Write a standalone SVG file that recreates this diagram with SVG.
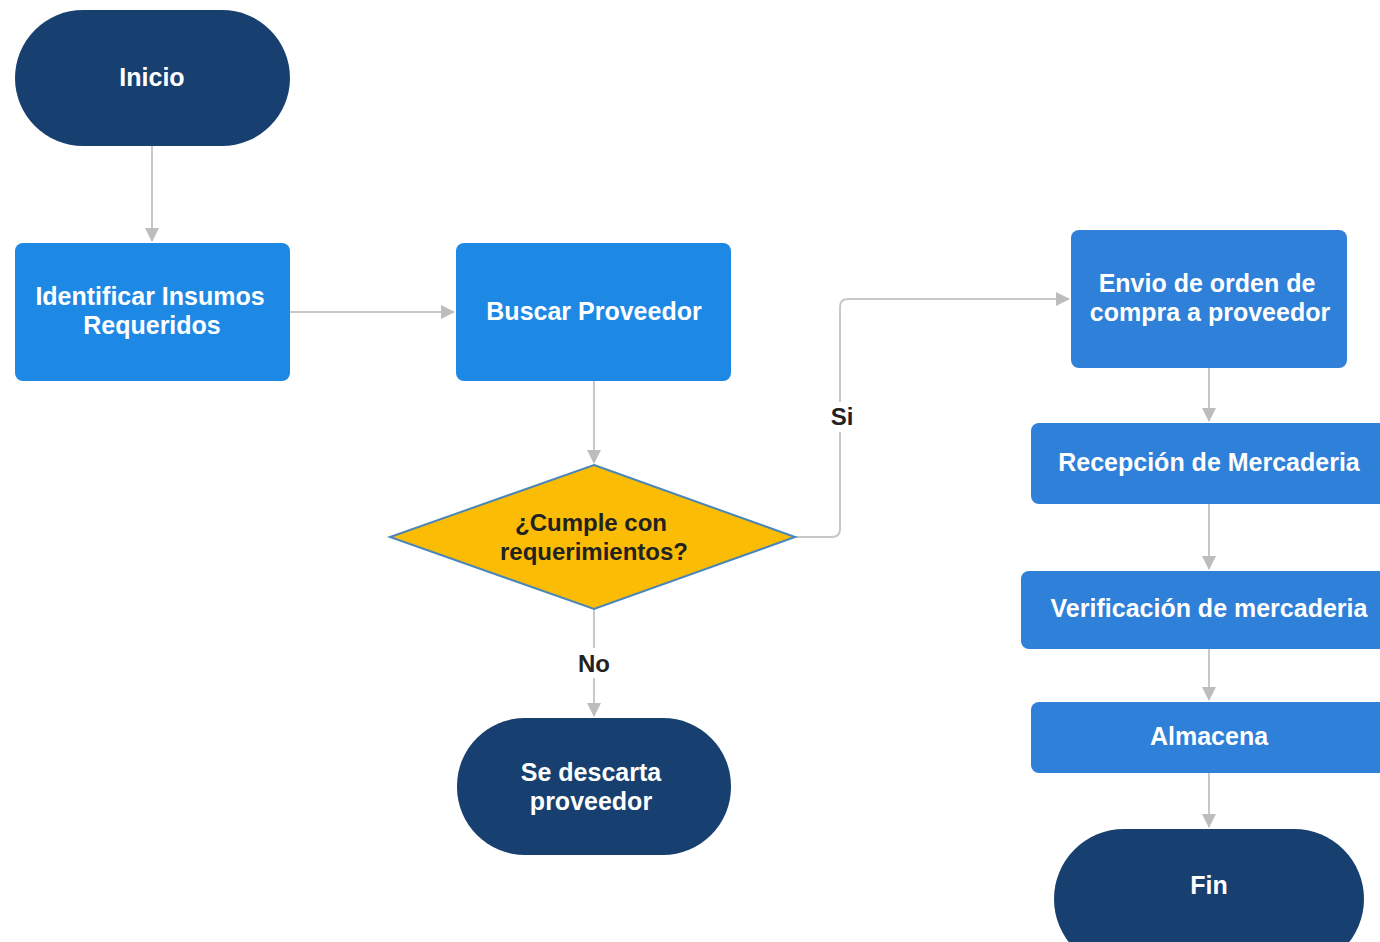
<svg xmlns="http://www.w3.org/2000/svg" width="1380" height="942" viewBox="0 0 1380 942">
<defs>
<marker id="arr" markerWidth="14" markerHeight="14" refX="13" refY="7" orient="auto" markerUnits="userSpaceOnUse">
<path d="M0,0 L14,7 L0,14 Z" fill="#bdbdbd"/>
</marker>
<style>
.term{fill:#173f6f;}
.proc{fill:#1e88e5;}
.proc2{fill:#2f80d8;}
.wt{font-family:"Liberation Sans",Arial,sans-serif;font-weight:bold;font-size:25px;fill:#ffffff;text-anchor:middle;}
.dk{font-family:"Liberation Sans",Arial,sans-serif;font-weight:bold;font-size:24px;fill:#222222;text-anchor:middle;}
.conn{fill:none;stroke:#c8c8c8;stroke-width:2;}
</style>
</defs>
<rect width="1380" height="942" fill="#ffffff"/>
<g id="connectors">
<path class="conn" d="M152,146 V241" marker-end="url(#arr)"/>
<path class="conn" d="M290,312 H454" marker-end="url(#arr)"/>
<path class="conn" d="M594,381 V463" marker-end="url(#arr)"/>
<path class="conn" d="M594,609 V716" marker-end="url(#arr)"/>
<path class="conn" d="M795,537 H832 Q840,537 840,529 V307 Q840,299 848,299 H1069" marker-end="url(#arr)"/>
<path class="conn" d="M1209,368 V421" marker-end="url(#arr)"/>
<path class="conn" d="M1209,504 V569" marker-end="url(#arr)"/>
<path class="conn" d="M1209,649 V700" marker-end="url(#arr)"/>
<path class="conn" d="M1209,773 V827" marker-end="url(#arr)"/>
<rect x="824" y="402" width="36" height="30" fill="#ffffff"/>
<text class="dk" x="842" y="425">Si</text>
<rect x="574" y="648" width="40" height="30" fill="#ffffff"/>
<text class="dk" x="594" y="672">No</text>
</g>
<g id="inicio">
<rect class="term" x="15" y="10" width="275" height="136" rx="68" ry="68"/>
<text class="wt" x="152" y="86">Inicio</text>
</g>
<g id="identificar">
<rect class="proc" x="15" y="243" width="275" height="138" rx="8"/>
<text class="wt" x="150" y="305">Identificar Insumos</text>
<text class="wt" x="152" y="334">Requeridos</text>
</g>
<g id="buscar">
<rect class="proc" x="456" y="243" width="275" height="138" rx="8"/>
<text class="wt" x="594" y="320">Buscar Proveedor</text>
</g>
<g id="decision">
<polygon points="594,465 795,537 594,609 390,537" fill="#fbbc05" stroke="#4a86b8" stroke-width="2"/>
<text class="dk" x="591" y="531">¿Cumple con</text>
<text class="dk" x="594" y="560">requerimientos?</text>
</g>
<g id="descarta">
<rect class="term" x="457" y="718" width="274" height="137" rx="68" ry="68"/>
<text class="wt" x="591" y="781">Se descarta</text>
<text class="wt" x="591" y="810">proveedor</text>
</g>
<g id="envio">
<rect class="proc2" x="1071" y="230" width="276" height="138" rx="8"/>
<text class="wt" x="1207" y="292">Envio de orden de</text>
<text class="wt" x="1210" y="321">compra a proveedor</text>
</g>
<g id="recepcion">
<rect class="proc2" x="1031" y="423" width="360" height="81" rx="8"/>
<text class="wt" x="1209" y="471">Recepción de Mercaderia</text>
</g>
<g id="verificacion">
<rect class="proc2" x="1021" y="571" width="370" height="78" rx="8"/>
<text class="wt" x="1209" y="617">Verificación de mercaderia</text>
</g>
<g id="almacena">
<rect class="proc2" x="1031" y="702" width="360" height="71" rx="8"/>
<text class="wt" x="1209" y="745">Almacena</text>
</g>
<g id="fin">
<rect class="term" x="1054" y="829" width="310" height="140" rx="70" ry="70"/>
<text class="wt" x="1209" y="894">Fin</text>
</g>
</svg>
